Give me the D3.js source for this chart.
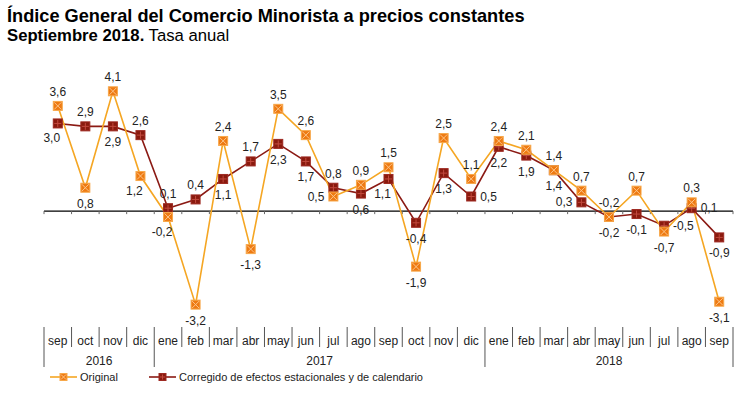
<!DOCTYPE html>
<html>
<head>
<meta charset="utf-8">
<script src="https://cdn.jsdelivr.net/npm/d3@7"></script>
<style>
  body { margin: 0; background: #fff; }
  svg { font-family: "Liberation Sans", Arial, sans-serif; }
</style>
</head>
<body>
<svg id="chart" width="755" height="394"></svg>
<script>
// months shown on the axis (sep 2016 .. sep 2018)
const months = ['sep','oct','nov','dic','ene','feb','mar','abr','may','jun','jul','ago',
  'sep','oct','nov','dic','ene','feb','mar','abr','may','jun','jul','ago','sep'];
// year groups: label, first index, count
const years = [
  { label: '2016', start: 0, count: 4 },
  { label: '2017', start: 4, count: 12 },
  { label: '2018', start: 16, count: 9 }
];
const original = [3.6, 0.8, 4.1, 1.2, -0.2, -3.2, 2.4, -1.3, 3.5, 2.6, 0.5, 0.9,
  1.5, -1.9, 2.5, 1.1, 2.4, 2.1, 1.4, 0.7, -0.2, 0.7, -0.7, 0.3, -3.1];
const corregido = [3.0, 2.9, 2.9, 2.6, 0.1, 0.4, 1.1, 1.7, 2.3, 1.7, 0.8, 0.6,
  1.1, -0.4, 1.3, 0.5, 2.2, 1.9, 1.4, 0.3, -0.2, -0.1, -0.5, 0.1, -0.9];
// where each value label sits: a = above, b = below, l = left, r = right
const posOriginal = ['a','b','a','bl','bl','b','a','b','a','a','l','a',
  'a','b','a','a','a','a','a','a','a','a','b','a','b'];
const posCorregido = ['bl','a','b','a','a','a','b','a','b','b','a','b',
  'bl','b','b','r','b','b','b','l','b','b','r','r','b'];

const svg = d3.select('#chart');
// comma decimals, plain hyphen for negatives
const fmt = v => v.toFixed(1).replace('.', ',');

// Title
svg.append('text')
  .attr('x', 7).attr('y', 22)
  .style('font-size', '18.2px').style('font-weight', 'bold').style('fill', '#000')
  .text('Índice General del Comercio Minorista a precios constantes');
const sub = svg.append('text')
  .attr('x', 7).attr('y', 41)
  .style('font-size', '16.7px').style('fill', '#000');
sub.append('tspan').style('font-weight', 'bold').text('Septiembre 2018.');
sub.append('tspan').text(' Tasa anual');

const x = d3.scaleBand()
  .domain(d3.range(months.length))
  .range([44, 733]);
const y = d3.scaleLinear()
  .domain([-4, 5])
  .range([328, 65]);
const cx = i => x(i) + x.bandwidth() / 2;

// zero line with small ticks at category boundaries
svg.append('line')
  .attr('x1', x.range()[0]).attr('x2', x.range()[1])
  .attr('y1', y(0)).attr('y2', y(0))
  .attr('stroke', '#000').attr('stroke-width', 1.2);
svg.selectAll('.tick0')
  .data(d3.range(months.length + 1))
  .enter().append('line')
  .attr('x1', i => i < months.length ? x(i) : x.range()[1])
  .attr('x2', i => i < months.length ? x(i) : x.range()[1])
  .attr('y1', y(0)).attr('y2', y(0) + 3)
  .attr('stroke', '#666').attr('stroke-width', 1);

// category table under the plot
const tableTop = 327;
svg.selectAll('.msep')
  .data(d3.range(months.length + 1))
  .enter().append('line')
  .attr('x1', i => i < months.length ? x(i) : x.range()[1])
  .attr('x2', i => i < months.length ? x(i) : x.range()[1])
  .attr('y1', tableTop)
  .attr('y2', i => (years.some(g => g.start === i) || i === months.length) ? tableTop + 40 : tableTop + 20)
  .attr('stroke', '#555').attr('stroke-width', 1);

svg.selectAll('.mlabel')
  .data(months)
  .enter().append('text')
  .attr('x', (d, i) => cx(i)).attr('y', tableTop + 18)
  .attr('text-anchor', 'middle')
  .style('font-size', '12px').style('fill', '#222')
  .text(d => d);

svg.selectAll('.ylabel')
  .data(years)
  .enter().append('text')
  .attr('x', d => (x(d.start) + x(d.start + d.count - 1) + x.bandwidth()) / 2)
  .attr('y', tableTop + 38)
  .attr('text-anchor', 'middle')
  .style('font-size', '12px').style('fill', '#222')
  .text(d => d.label);

// series
const series = [
  { values: original, pos: posOriginal, line: '#F5A623', fill: '#EE7A12', edge: '#F7A84A', mark: 'x', cross: '#FCC58A' },
  { values: corregido, pos: posCorregido, line: '#8B1A14', fill: '#8A1A0E', edge: '#9E2A22', mark: '+', cross: '#C24A3E' }
];

const line = d3.line()
  .x((d, i) => cx(i))
  .y(d => y(d));

function marker(g, px, py, s, size) {
  const h = size / 2;
  g.append('rect')
    .attr('x', px - h).attr('y', py - h)
    .attr('width', size).attr('height', size)
    .attr('fill', s.fill).attr('stroke', s.edge).attr('stroke-width', 1);
  const k = h - 1;
  const segs = s.mark === 'x'
    ? [[-k, -k, k, k], [-k, k, k, -k]]
    : [[-k, 0, k, 0], [0, -k, 0, k]];
  segs.forEach(p => g.append('line')
    .attr('x1', px + p[0]).attr('y1', py + p[1])
    .attr('x2', px + p[2]).attr('y2', py + p[3])
    .attr('stroke', s.cross).attr('stroke-width', 1));
}

// draw lines first (corrected under original like the picture)
series.slice().reverse().forEach(s => {
  svg.append('path')
    .datum(s.values)
    .attr('d', line)
    .attr('fill', 'none')
    .attr('stroke', s.line)
    .attr('stroke-width', 1.6);
});
series.slice().reverse().forEach(s => {
  const g = svg.append('g');
  s.values.forEach((v, i) => marker(g, cx(i), y(v), s, 9));
});

// value labels
series.forEach(s => {
  s.values.forEach((v, i) => {
    const p = s.pos[i];
    let dx = 0, dy = 0, anchor = 'middle';
    if (p === 'a') dy = -10;
    else if (p === 'b') dy = 20;
    else if (p === 'bl') { dy = 19; dx = -6; }
    else if (p === 'l') { dx = -9; dy = 4; anchor = 'end'; }
    else if (p === 'r') { dx = 9; dy = 4; anchor = 'start'; }
    svg.append('text')
      .attr('x', cx(i) + dx).attr('y', y(v) + dy)
      .attr('text-anchor', anchor)
      .style('font-size', '12px').style('fill', '#222')
      .text(fmt(v));
  });
});

// legend
const legendY = 377;
const legend = [
  { s: series[0], x: 50, label: 'Original' },
  { s: series[1], x: 149, label: 'Corregido de efectos estacionales y de calendario' }
];
legend.forEach(l => {
  svg.append('line')
    .attr('x1', l.x).attr('x2', l.x + 27)
    .attr('y1', legendY).attr('y2', legendY)
    .attr('stroke', l.s.line).attr('stroke-width', 1.6);
  marker(svg.append('g'), l.x + 13.5, legendY, l.s, 7);
  svg.append('text')
    .attr('x', l.x + 30).attr('y', legendY + 4)
    .style('font-size', '11px').style('fill', '#222')
    .text(l.label);
});
</script>
</body>
</html>
